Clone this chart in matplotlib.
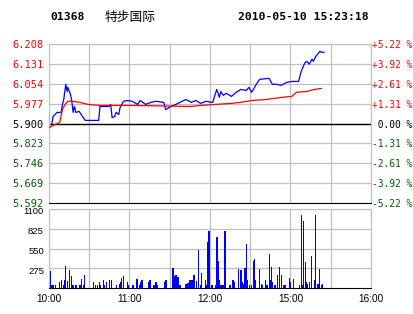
import numpy as np
import matplotlib.pyplot as plt
from matplotlib.transforms import ScaledTranslation

# minutes since 10:00 (trading time, lunch break removed: 12:30 -> 14:30)
price_t = [2, 3, 6, 9, 10, 11, 12.5, 13.5, 14, 16, 17, 18, 19, 20, 22.5, 25, 27, 37, 38, 45,
           46, 47, 49, 50, 52, 53, 55.5, 58.5, 62, 66, 68, 72, 76, 79.5, 85.5, 87, 91, 94.5,
           102, 106, 109.5, 113, 117, 121, 122, 125, 127, 128, 130, 132, 136, 139.5, 143, 147,
           149, 151, 154.5, 157, 164, 166.5, 169.5, 173, 177, 181, 186, 188, 190.5, 192, 194,
           196, 197, 199, 202, 203, 205]
price = [5.896, 5.927, 5.943, 5.943, 5.974, 5.993, 6.052, 6.024, 6.040, 6.013, 5.986, 5.943,
         5.966, 5.943, 5.947, 5.927, 5.912, 5.912, 5.966, 5.966, 5.974, 5.923, 5.927, 5.943,
         5.935, 5.962, 5.986, 5.989, 5.986, 5.974, 5.989, 5.974, 5.982, 5.986, 5.982, 5.954,
         5.966, 5.974, 5.993, 5.982, 5.989, 5.978, 5.986, 5.982, 5.982, 6.032, 6.001, 6.024,
         6.009, 6.017, 6.005, 6.021, 6.032, 6.028, 6.040, 6.021, 6.052, 6.071, 6.075, 6.052,
         6.052, 6.048, 6.059, 6.063, 6.063, 6.102, 6.133, 6.141, 6.130, 6.149, 6.141, 6.161,
         6.180, 6.176, 6.176]

avg_t = [0, 4.5, 8, 10, 12, 14, 17, 23, 29, 38, 61, 106, 113, 124.5, 136, 143, 151, 162,
         173, 181, 184.5, 192, 198, 203]
avg = [5.884, 5.896, 5.904, 5.954, 5.974, 5.986, 5.986, 5.982, 5.974, 5.970, 5.970, 5.966,
       5.970, 5.974, 5.978, 5.982, 5.989, 5.993, 6.001, 6.005, 6.021, 6.024, 6.032, 6.036]

vol_t = [1.0, 1.7, 2.5, 3.2, 4.7, 7.7, 9.2, 10.7, 11.5, 12.2, 13.7, 15.2, 16.7, 17.5, 18.2,
         19.7, 20.5, 22.7, 23.5, 24.2, 25.7, 26.5, 33.2, 34.7, 36.2, 37.7, 38.5, 40.7, 41.5,
         43.0, 45.2, 46.7, 50.5, 52.7, 53.5, 54.2, 55.7, 58.7, 59.5, 62.5, 65.5, 67.7, 68.5,
         69.2, 74.5, 75.2, 78.2, 79.7, 80.5, 86.5, 87.2, 92.5, 93.2, 94.7, 96.2, 97.7, 102.2,
         103.7, 105.2, 106.7, 107.5, 108.2, 109.7, 111.2, 112.7, 113.5, 116.5, 117.2,
         118.5, 119.2, 121.5, 124.5, 125.2, 126, 126.7, 128.2, 129, 129.7, 131.2, 135, 137.2,
         138, 141, 143.2, 144, 144.7, 146.2, 147, 147.7, 149.2, 150.7, 152.2, 153, 153.7,
         156.7, 158.2, 159, 161.2, 162, 162.7, 164.2, 165, 165.7, 166.5, 168, 168.7, 170.2,
         171.7, 173.2, 174.7, 175.5, 176.2, 179.2, 180, 182.2, 186.7, 188.2, 189, 189.7,
         191.2, 192, 192.7, 194.2, 195.7, 198, 198.7, 200.2, 201, 201.7, 203.2, 204]
vol = [230, 46, 46, 46, 35, 78, 115, 35, 115, 310, 100, 245, 170, 40, 46,
       35, 35, 35, 35, 130, 35, 185, 85, 35, 35, 85, 46, 105, 46,
       80, 115, 115, 46, 60, 85, 145, 170, 80, 35, 46, 130, 46, 80,
       105, 80, 115, 35, 80, 46, 80, 115, 280, 170, 185, 150, 46, 60,
       70, 115, 115, 115, 185, 100, 530, 35, 210, 115, 46,
       634, 787, 46, 46, 717, 380, 105, 46, 40, 46, 796, 46, 115,
       80, 270, 255, 80, 60, 278, 616, 115, 35, 35, 380, 407, 115,
       270, 60, 35, 115, 46, 40, 477, 115, 286, 80, 46, 35, 185,
       286, 185, 35, 35, 35, 143, 80, 130, 35, 1019, 46, 936,
       365, 80, 60, 80, 450, 115, 1010, 60, 60, 270, 35, 60]

ticks_p = [5.592, 5.669, 5.746, 5.823, 5.900, 5.977, 6.054, 6.131, 6.208]
ticks_pct = ["-5.22 %", "-3.92 %", "-2.61 %", "-1.31 %", " 0.00 %", "+1.31 %", "+2.61 %", "+3.92 %", "+5.22 %"]
ticks_vol = [275, 550, 825, 1100]
time_lab = ["10:00", "", "11:00", "", "12:00", "", "15:00", "", "16:00"]

red = "#ff0000"
green = "#005f00"
grid = "#c0c0c0"
mono = "DejaVu Sans Mono"

fig = plt.figure(figsize=(4.14, 3.14), dpi=100)
ax = fig.add_axes([49/414, 1-203/314, 322/414, 159/314])
av = fig.add_axes([49/414, 1-288/314, 322/414, 79/314])

# header
fig.text(50/414, 1-17/314, "01368", family=mono, weight="bold", fontsize=8.2, va="center")
fig.text(105/414, 1-17/314, "特步国际", family=["Noto Sans CJK SC", "DejaVu Sans"], fontsize=9.2, va="center")
fig.text(238/414, 1-17/314, "2010-05-10 15:23:18", family=mono, weight="bold", fontsize=8.2, va="center")

# price panel
ax.plot(price_t, price, color="#0000ff", lw=0.9, zorder=3)
ax.plot(avg_t, avg, color=red, lw=0.9, zorder=3)
ax.axhline(5.900, color="black", lw=1, zorder=2)
ax.set_xlim(0, 240)
ax.set_ylim(5.592, 6.208)
ax.set_xticks(np.arange(0, 241, 30))
ax.set_yticks(ticks_p)
ax.grid(True, color=grid, lw=0.9)
ax.tick_params(length=0, labelbottom=False, pad=4)
ax.set_yticklabels([f"{v:.3f}" for v in ticks_p], family=mono, fontsize=7.5)
for lab, v in zip(ax.get_yticklabels(), ticks_p):
    lab.set_color(red if v > 5.9 else ("black" if v == 5.9 else green))
for s in ["top", "left", "right"]:
    ax.spines[s].set_color(grid)
ax.spines["bottom"].set_color("black")

ar = ax.twinx()
ar.set_ylim(5.592, 6.208)
ar.set_yticks(ticks_p)
ar.set_yticklabels(ticks_pct, family=mono, fontsize=6.9)
ar.tick_params(length=0, pad=0.5)
for lab, v in zip(ar.get_yticklabels(), ticks_p):
    lab.set_color(red if v > 5.9 else ("black" if v == 5.9 else green))
for s in ar.spines.values():
    s.set_visible(False)

# volume panel
av.bar(vol_t, vol, width=1.0, color="#0000ff", lw=0, zorder=3)
av.set_xlim(0, 240)
av.set_ylim(0, 1100)
av.set_xticks(np.arange(0, 241, 30))
av.set_yticks(ticks_vol)
av.grid(True, color=grid, lw=0.9)
av.tick_params(length=0, pad=4, labelleft=False)
# volume labels sit a little below their grid lines
shift = av.get_yaxis_transform() + ScaledTranslation(-0.05, -0.03, fig.dpi_scale_trans)
for v in ticks_vol:
    av.text(0, v, str(v), transform=shift, ha="right", va="center",
            family="Liberation Sans", fontsize=6.8)
av.set_xticklabels(time_lab, family="Liberation Sans", fontsize=7.2)
for s in ["top", "left", "right"]:
    av.spines[s].set_color(grid)
av.spines["bottom"].set_color("black")

fig.savefig("out.png", dpi=100, facecolor="white")
